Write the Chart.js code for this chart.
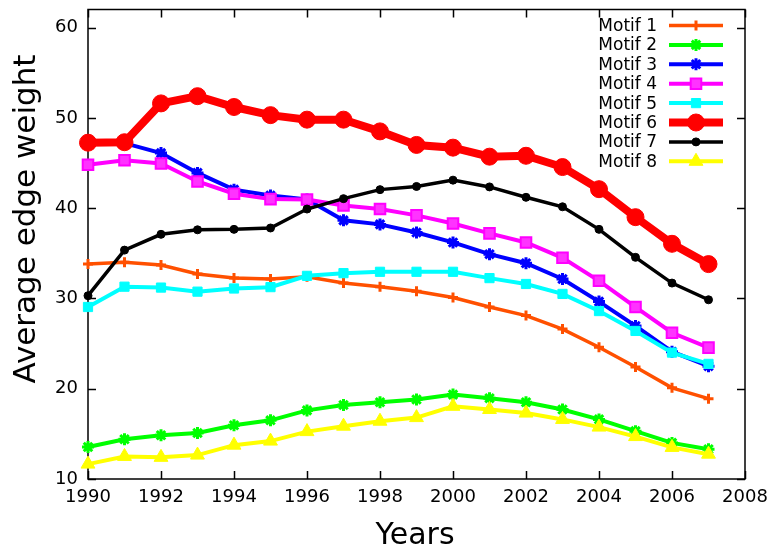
<!DOCTYPE html>
<html>
<head>
<meta charset="utf-8">
<script src="https://cdn.jsdelivr.net/npm/chart.js@4/dist/chart.umd.min.js"></script>
<style>
  html, body { margin: 0; padding: 0; background: #ffffff; }
  #wrap { position: relative; width: 774px; height: 547px; }
</style>
</head>
<body>
<div id="wrap"><canvas id="chart" width="774" height="547"></canvas></div>
<script>
// Years on the horizontal axis
const years = [1990, 1991, 1992, 1993, 1994, 1995, 1996, 1997, 1998, 1999,
               2000, 2001, 2002, 2003, 2004, 2005, 2006, 2007];

// Average edge weight per motif
const motif1 = [33.8, 34.0, 33.7, 32.7, 32.25, 32.15, 32.4, 31.7, 31.3, 30.8,
                30.1, 29.05, 28.1, 26.6, 24.6, 22.4, 20.1, 18.9];
const motif2 = [13.55, 14.4, 14.85, 15.1, 15.95, 16.5, 17.6, 18.2, 18.5, 18.8,
                19.35, 18.95, 18.5, 17.7, 16.6, 15.3, 14.0, 13.3];
const motif3 = [47.2, 47.2, 46.1, 43.9, 42.05, 41.4, 40.95, 38.65, 38.2, 37.3,
                36.2, 34.9, 33.9, 32.15, 29.65, 26.95, 24.1, 22.5];
const motif4 = [44.8, 45.3, 44.95, 42.95, 41.6, 41.0, 40.95, 40.3, 39.9, 39.2,
                38.3, 37.2, 36.2, 34.5, 31.95, 29.05, 26.2, 24.55];
const motif5 = [29.05, 31.3, 31.2, 30.75, 31.1, 31.25, 32.5, 32.8, 32.95, 32.95,
                32.95, 32.25, 31.6, 30.5, 28.6, 26.4, 24.0, 22.75];
const motif6 = [47.25, 47.3, 51.6, 52.4, 51.2, 50.3, 49.8, 49.8, 48.5, 47.0,
                46.7, 45.7, 45.8, 44.55, 42.1, 39.0, 36.05, 33.8];
const motif7 = [30.3, 35.35, 37.1, 37.6, 37.65, 37.8, 39.9, 41.05, 42.05, 42.4,
                43.1, 42.35, 41.2, 40.15, 37.65, 34.55, 31.7, 29.85];
const motif8 = [11.65, 12.5, 12.4, 12.65, 13.75, 14.2, 15.25, 15.85, 16.4, 16.8,
                18.05, 17.7, 17.3, 16.6, 15.75, 14.7, 13.5, 12.75];

const seriesNames = ['Motif 1', 'Motif 2', 'Motif 3', 'Motif 4',
                     'Motif 5', 'Motif 6', 'Motif 7', 'Motif 8'];
const seriesValues = [motif1, motif2, motif3, motif4, motif5, motif6, motif7, motif8];

// Axis ticks
const xTicks = [1990, 1992, 1994, 1996, 1998, 2000, 2002, 2004, 2006, 2008];
const yTicks = [10, 20, 30, 40, 50, 60];

// Look of each series: colour, line width, marker
const styles = [
  { color: '#ff5000', fill: '#ff5000', width: 3.5, point: 'cross',    radius: 5,   pbw: 3 },
  { color: '#00ff00', fill: '#00ff00', width: 4,   point: 'star',     radius: 6,   pbw: 3 },
  { color: '#0000ff', fill: '#0000ff', width: 4,   point: 'star',     radius: 6,   pbw: 3 },
  { color: '#ff00ff', fill: '#ff33ff', width: 4,   point: 'rect',     radius: 7.5, pbw: 2 },
  { color: '#00ffff', fill: '#00ffff', width: 4,   point: 'rect',     radius: 6.5, pbw: 1 },
  { color: '#ff0000', fill: '#ff0000', width: 8,   point: 'circle',   radius: 8.5, pbw: 1 },
  { color: '#000000', fill: '#000000', width: 3.5, point: 'circle',   radius: 4,   pbw: 1 },
  { color: '#ffff00', fill: '#ffff00', width: 4,   point: 'triangle', radius: 8,   pbw: 1 }
];

const FONT = 'DejaVu Sans';

const datasets = seriesValues.map((vals, i) => ({
  label: seriesNames[i],
  data: vals.map((v, k) => ({ x: years[k], y: v })),
  borderColor: styles[i].color,
  backgroundColor: styles[i].fill,
  borderWidth: styles[i].width,
  pointStyle: styles[i].point,
  pointRadius: styles[i].radius,
  pointHoverRadius: styles[i].radius,
  pointBorderWidth: styles[i].pbw,
  pointBorderColor: styles[i].color,
  pointBackgroundColor: styles[i].fill,
  tension: 0,
  fill: false,
  clip: false,
  order: seriesNames.length - 1 - i   // later series are drawn on top
}));

// Frame with inward ticks on all four sides
const framePlugin = {
  id: 'frame',
  beforeDatasetsDraw(chart) {
    const { ctx, chartArea: a, scales } = chart;
    const len = 8;
    ctx.save();
    ctx.strokeStyle = '#000000';
    ctx.lineWidth = 1.5;
    ctx.beginPath();
    xTicks.forEach(t => {
      const x = Math.round(scales.x.getPixelForValue(t)) + 0.5;
      ctx.moveTo(x, a.bottom); ctx.lineTo(x, a.bottom - len);
      ctx.moveTo(x, a.top);    ctx.lineTo(x, a.top + len);
    });
    yTicks.forEach(t => {
      const y = Math.round(scales.y.getPixelForValue(t)) + 0.5;
      ctx.moveTo(a.left, y);  ctx.lineTo(a.left + len, y);
      ctx.moveTo(a.right, y); ctx.lineTo(a.right - len, y);
    });
    ctx.stroke();
    ctx.strokeRect(a.left, a.top, a.right - a.left, a.bottom - a.top);
    ctx.restore();
  }
};

// Axis titles and the key in the upper right corner
const labelsPlugin = {
  id: 'labels',
  afterDatasetsDraw(chart) {
    const { ctx } = chart;
    ctx.save();
    ctx.fillStyle = '#000000';
    ctx.font = '30px "' + FONT + '"';
    ctx.textAlign = 'center';
    ctx.textBaseline = 'alphabetic';
    ctx.fillText('Years', 415, 544);

    ctx.save();
    ctx.font = '31px "' + FONT + '"';
    ctx.translate(35, 219);
    ctx.rotate(-Math.PI / 2);
    ctx.fillText('Average edge weight', 0, 0);
    ctx.restore();

    // key
    ctx.font = '17px "' + FONT + '"';
    ctx.textAlign = 'right';
    ctx.textBaseline = 'middle';
    const drawPoint = Chart.helpers && Chart.helpers.drawPoint;
    chart.data.datasets.forEach((ds, i) => {
      const y = 25.5 + 19.4 * i;
      ctx.fillStyle = '#000000';
      ctx.fillText(ds.label, 657, y + 1);
      ctx.strokeStyle = ds.borderColor;
      ctx.lineWidth = ds.borderWidth;
      ctx.beginPath();
      ctx.moveTo(669, y);
      ctx.lineTo(723, y);
      ctx.stroke();
      if (drawPoint) {
        ctx.fillStyle = ds.pointBackgroundColor;
        ctx.strokeStyle = ds.pointBorderColor;
        ctx.lineWidth = ds.pointBorderWidth;
        drawPoint(ctx, {
          pointStyle: ds.pointStyle,
          radius: ds.pointRadius,
          borderWidth: ds.pointBorderWidth,
          rotation: 0
        }, 696, y);
      }
    });
    ctx.restore();
  }
};

new Chart(document.getElementById('chart'), {
  type: 'line',
  data: { datasets },
  options: {
    responsive: false,
    animation: false,
    events: [],
    layout: { padding: { left: 0, right: 29, top: 7, bottom: 0 } },
    plugins: {
      legend: { display: false },
      tooltip: { enabled: false },
      title: { display: false }
    },
    scales: {
      x: {
        type: 'linear',
        min: 1990,
        max: 2008,
        grid: { display: false, drawTicks: false },
        border: { display: false },
        afterFit(scale) {
          scale.height = 68;
          scale.paddingLeft = 0;
          scale.paddingRight = 0;
        },
        afterBuildTicks(scale) { scale.ticks = xTicks.map(v => ({ value: v })); },
        ticks: {
          color: '#000000',
          font: { family: FONT, size: 18 },
          padding: 8,
          maxRotation: 0,
          autoSkip: false,
          callback: v => String(v)
        }
      },
      y: {
        type: 'linear',
        min: 10,
        max: 62,
        grid: { display: false, drawTicks: false },
        border: { display: false },
        afterFit(scale) {
          scale.width = 88;
          scale.paddingTop = 0;
          scale.paddingBottom = 0;
        },
        afterBuildTicks(scale) { scale.ticks = yTicks.map(v => ({ value: v })); },
        ticks: {
          color: '#000000',
          font: { family: FONT, size: 18 },
          padding: 10,
          callback: v => String(v)
        }
      }
    }
  },
  plugins: [framePlugin, labelsPlugin]
});
</script>
</body>
</html>
